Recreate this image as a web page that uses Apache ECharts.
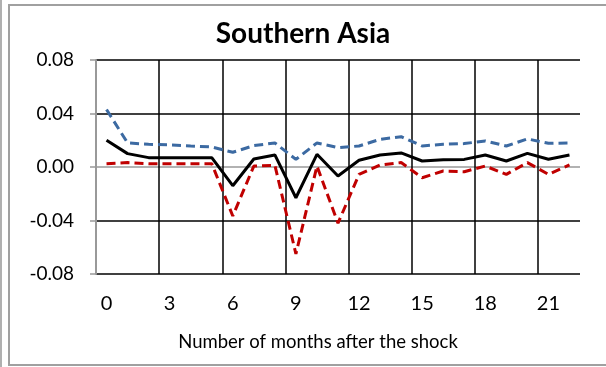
<!DOCTYPE html>
<html>
<head>
<meta charset="utf-8">
<script src="https://cdn.jsdelivr.net/npm/echarts@6/dist/echarts.min.js"></script>
<style>
  html, body { margin: 0; padding: 0; background: #fff; }
  #chart { width: 606px; height: 367px; }
</style>
</head>
<body>
<div id="chart"></div>
<script>
// Months after the shock (category axis)
const months = Array.from({ length: 23 }, (_, i) => String(i));

// Impulse response: point estimate and confidence bounds
const pointEstimate = [0.020, 0.010, 0.007, 0.007, 0.007, 0.007, -0.014, 0.006, 0.009, -0.023, 0.0095, -0.0067,
  0.005, 0.009, 0.0105, 0.0045, 0.0055, 0.0057, 0.009, 0.0045, 0.0102, 0.0058, 0.009];
const upperBound = [0.043, 0.018, 0.017, 0.0165, 0.0157, 0.015, 0.011, 0.016, 0.018, 0.0057, 0.018, 0.0145,
  0.0157, 0.0207, 0.0227, 0.0157, 0.017, 0.0175, 0.0195, 0.0157, 0.021, 0.0177, 0.018];
const lowerBound = [0.0025, 0.0033, 0.0025, 0.0025, 0.0025, 0.0025, -0.0366, 0.0007, 0.0013, -0.065, 0.0007, -0.042,
  -0.0055, 0.0015, 0.0033, -0.008, -0.003, -0.0035, 0.0007, -0.0055, 0.0033, -0.0055, 0.0015];

// Value axis ticks
const yTicks = [-0.08, -0.04, 0.00, 0.04, 0.08];

const FONT = 'Lato, "Noto Sans", sans-serif';
const chart = echarts.init(document.getElementById('chart'), null, { renderer: 'canvas' });

chart.setOption({
  animation: false,
  title: {
    text: 'Southern Asia',
    left: 'center',
    top: 15,
    textStyle: { fontFamily: FONT, fontWeight: 'bold', fontSize: 28, color: '#000' }
  },
  graphic: [
    { type: 'rect', shape: { x: 9, y: 5, width: 620, height: 360 },
      style: { fill: null, stroke: '#a0a0a0', lineWidth: 2 }, silent: true },
    { type: 'line', shape: { x1: 1, y1: 0, x2: 1, y2: 367 },
      style: { stroke: '#b0b0b0', lineWidth: 2 }, silent: true },
    { type: 'text', x: 318, y: 342,
      style: { text: 'Number of months after the shock', font: '18.5px ' + FONT, fill: '#000',
        align: 'center', verticalAlign: 'middle' }, silent: true }
  ],
  grid: { left: 96, right: 26, top: 60, bottom: 93, containLabel: false },
  xAxis: {
    type: 'category',
    data: months,
    boundaryGap: true,
    axisLine: { show: false, onZero: false },
    axisTick: { show: false },
    axisLabel: { interval: 2, margin: 20, fontFamily: FONT, fontSize: 20, color: '#000' },
    splitLine: {
      show: true,
      interval: 2,
      showMinLine: false,
      showMaxLine: false,
      lineStyle: { color: '#000', width: 1.5 }
    }
  },
  yAxis: {
    type: 'value',
    min: yTicks[0],
    max: yTicks[yTicks.length - 1],
    interval: 0.04,
    axisLine: { show: true, lineStyle: { color: '#999', width: 2 } },
    axisTick: { show: true, inside: false, length: 6, lineStyle: { color: '#999', width: 1.5 } },
    axisLabel: { margin: 22, fontFamily: FONT, fontSize: 19, color: '#000',
      formatter: (v) => v.toFixed(2) },
    splitLine: { show: true, lineStyle: { color: ['#000', '#000', '#999', '#000', '#000'], width: 1.5 } }
  },
  series: [
    { name: 'Upper', type: 'line', data: upperBound, symbol: 'none',
      lineStyle: { color: '#3C6AA2', width: 3, type: [9, 5] } },
    { name: 'Lower', type: 'line', data: lowerBound, symbol: 'none',
      lineStyle: { color: '#C00000', width: 3, type: [9, 5] } },
    { name: 'Estimate', type: 'line', data: pointEstimate, symbol: 'none',
      lineStyle: { color: '#000', width: 3 } }
  ]
});
</script>
</body>
</html>
